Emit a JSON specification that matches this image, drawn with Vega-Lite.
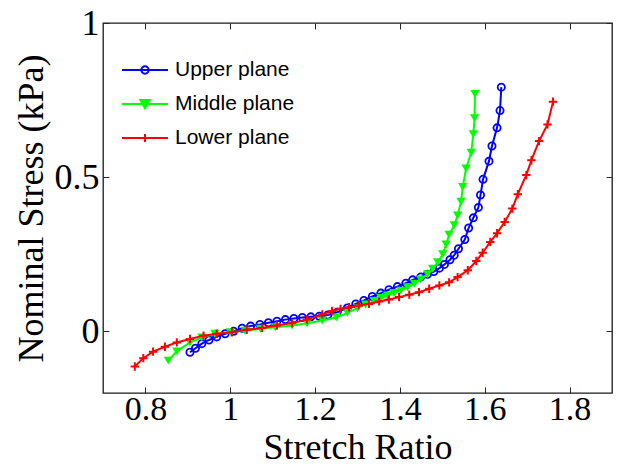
{
  "$schema": "https://vega.github.io/schema/vega-lite/v6.json",
  "width": 509,
  "height": 370,
  "autosize": "none",
  "padding": {"left": 103, "top": 23, "right": 13, "bottom": 83},
  "background": "white",
  "config": {
    "view": {"stroke": "#1a1a1a", "strokeWidth": 1.3},
    "axis": {
      "labelFont": "Liberation Serif",
      "labelFontSize": 34,
      "labelColor": "black",
      "titleFont": "Liberation Serif",
      "titleFontSize": 36,
      "titleFontWeight": "normal",
      "titleColor": "black",
      "grid": false,
      "domain": false,
      "tickColor": "#262626",
      "tickSize": -6,
      "tickWidth": 1
    }
  },
  "data": {
    "values": [
      {"series": "Upper plane", "x": 0.905, "y": -0.068},
      {"series": "Upper plane", "x": 0.918, "y": -0.055},
      {"series": "Upper plane", "x": 0.933, "y": -0.040},
      {"series": "Upper plane", "x": 0.95, "y": -0.028},
      {"series": "Upper plane", "x": 0.968, "y": -0.018},
      {"series": "Upper plane", "x": 0.988, "y": -0.008},
      {"series": "Upper plane", "x": 1.008, "y": 0.0},
      {"series": "Upper plane", "x": 1.028, "y": 0.010},
      {"series": "Upper plane", "x": 1.048, "y": 0.017},
      {"series": "Upper plane", "x": 1.07, "y": 0.022},
      {"series": "Upper plane", "x": 1.09, "y": 0.028},
      {"series": "Upper plane", "x": 1.11, "y": 0.033},
      {"series": "Upper plane", "x": 1.13, "y": 0.038},
      {"series": "Upper plane", "x": 1.15, "y": 0.042},
      {"series": "Upper plane", "x": 1.17, "y": 0.045},
      {"series": "Upper plane", "x": 1.19, "y": 0.047},
      {"series": "Upper plane", "x": 1.21, "y": 0.049},
      {"series": "Upper plane", "x": 1.23, "y": 0.053},
      {"series": "Upper plane", "x": 1.252, "y": 0.062},
      {"series": "Upper plane", "x": 1.276, "y": 0.076},
      {"series": "Upper plane", "x": 1.296, "y": 0.089},
      {"series": "Upper plane", "x": 1.315, "y": 0.100},
      {"series": "Upper plane", "x": 1.335, "y": 0.113},
      {"series": "Upper plane", "x": 1.355, "y": 0.124},
      {"series": "Upper plane", "x": 1.374, "y": 0.135},
      {"series": "Upper plane", "x": 1.394, "y": 0.145},
      {"series": "Upper plane", "x": 1.414, "y": 0.156},
      {"series": "Upper plane", "x": 1.43, "y": 0.167},
      {"series": "Upper plane", "x": 1.449, "y": 0.176},
      {"series": "Upper plane", "x": 1.465, "y": 0.185},
      {"series": "Upper plane", "x": 1.48, "y": 0.194},
      {"series": "Upper plane", "x": 1.493, "y": 0.205},
      {"series": "Upper plane", "x": 1.505, "y": 0.217},
      {"series": "Upper plane", "x": 1.518, "y": 0.232},
      {"series": "Upper plane", "x": 1.528, "y": 0.247},
      {"series": "Upper plane", "x": 1.538, "y": 0.268},
      {"series": "Upper plane", "x": 1.553, "y": 0.298},
      {"series": "Upper plane", "x": 1.562, "y": 0.335},
      {"series": "Upper plane", "x": 1.573, "y": 0.368},
      {"series": "Upper plane", "x": 1.585, "y": 0.402},
      {"series": "Upper plane", "x": 1.59, "y": 0.442},
      {"series": "Upper plane", "x": 1.596, "y": 0.493},
      {"series": "Upper plane", "x": 1.61, "y": 0.552},
      {"series": "Upper plane", "x": 1.617, "y": 0.601},
      {"series": "Upper plane", "x": 1.629, "y": 0.660},
      {"series": "Upper plane", "x": 1.636, "y": 0.716},
      {"series": "Upper plane", "x": 1.639, "y": 0.792},
      {"series": "Middle plane", "x": 0.854, "y": -0.095},
      {"series": "Middle plane", "x": 0.874, "y": -0.065},
      {"series": "Middle plane", "x": 0.905, "y": -0.036},
      {"series": "Middle plane", "x": 0.933, "y": -0.020},
      {"series": "Middle plane", "x": 0.964, "y": -0.008},
      {"series": "Middle plane", "x": 1.0, "y": -0.003},
      {"series": "Middle plane", "x": 1.035, "y": 0.002},
      {"series": "Middle plane", "x": 1.071, "y": 0.008},
      {"series": "Middle plane", "x": 1.106, "y": 0.013},
      {"series": "Middle plane", "x": 1.146, "y": 0.019},
      {"series": "Middle plane", "x": 1.181, "y": 0.026},
      {"series": "Middle plane", "x": 1.217, "y": 0.035},
      {"series": "Middle plane", "x": 1.25, "y": 0.045},
      {"series": "Middle plane", "x": 1.276, "y": 0.060},
      {"series": "Middle plane", "x": 1.3, "y": 0.075},
      {"series": "Middle plane", "x": 1.319, "y": 0.087},
      {"series": "Middle plane", "x": 1.339, "y": 0.098},
      {"series": "Middle plane", "x": 1.355, "y": 0.108},
      {"series": "Middle plane", "x": 1.371, "y": 0.116},
      {"series": "Middle plane", "x": 1.386, "y": 0.124},
      {"series": "Middle plane", "x": 1.402, "y": 0.132},
      {"series": "Middle plane", "x": 1.418, "y": 0.143},
      {"series": "Middle plane", "x": 1.434, "y": 0.154},
      {"series": "Middle plane", "x": 1.449, "y": 0.168},
      {"series": "Middle plane", "x": 1.465, "y": 0.185},
      {"series": "Middle plane", "x": 1.477, "y": 0.203},
      {"series": "Middle plane", "x": 1.489, "y": 0.224},
      {"series": "Middle plane", "x": 1.501, "y": 0.250},
      {"series": "Middle plane", "x": 1.509, "y": 0.282},
      {"series": "Middle plane", "x": 1.516, "y": 0.313},
      {"series": "Middle plane", "x": 1.528, "y": 0.344},
      {"series": "Middle plane", "x": 1.536, "y": 0.376},
      {"series": "Middle plane", "x": 1.544, "y": 0.420},
      {"series": "Middle plane", "x": 1.548, "y": 0.468},
      {"series": "Middle plane", "x": 1.556, "y": 0.528},
      {"series": "Middle plane", "x": 1.568, "y": 0.579},
      {"series": "Middle plane", "x": 1.573, "y": 0.639},
      {"series": "Middle plane", "x": 1.576, "y": 0.691},
      {"series": "Middle plane", "x": 1.577, "y": 0.770},
      {"series": "Lower plane", "x": 0.775, "y": -0.114},
      {"series": "Lower plane", "x": 0.795, "y": -0.087},
      {"series": "Lower plane", "x": 0.818, "y": -0.066},
      {"series": "Lower plane", "x": 0.846, "y": -0.050},
      {"series": "Lower plane", "x": 0.874, "y": -0.036},
      {"series": "Lower plane", "x": 0.905, "y": -0.025},
      {"series": "Lower plane", "x": 0.937, "y": -0.014},
      {"series": "Lower plane", "x": 0.968, "y": -0.008},
      {"series": "Lower plane", "x": 1.004, "y": -0.003},
      {"series": "Lower plane", "x": 1.039, "y": 0.005},
      {"series": "Lower plane", "x": 1.075, "y": 0.011},
      {"series": "Lower plane", "x": 1.11, "y": 0.019},
      {"series": "Lower plane", "x": 1.146, "y": 0.027},
      {"series": "Lower plane", "x": 1.181, "y": 0.038},
      {"series": "Lower plane", "x": 1.217, "y": 0.055},
      {"series": "Lower plane", "x": 1.24, "y": 0.066},
      {"series": "Lower plane", "x": 1.26, "y": 0.073},
      {"series": "Lower plane", "x": 1.28, "y": 0.078},
      {"series": "Lower plane", "x": 1.303, "y": 0.084},
      {"series": "Lower plane", "x": 1.327, "y": 0.089},
      {"series": "Lower plane", "x": 1.351, "y": 0.097},
      {"series": "Lower plane", "x": 1.374, "y": 0.103},
      {"series": "Lower plane", "x": 1.398, "y": 0.111},
      {"series": "Lower plane", "x": 1.422, "y": 0.119},
      {"series": "Lower plane", "x": 1.445, "y": 0.127},
      {"series": "Lower plane", "x": 1.469, "y": 0.138},
      {"series": "Lower plane", "x": 1.493, "y": 0.149},
      {"series": "Lower plane", "x": 1.516, "y": 0.159},
      {"series": "Lower plane", "x": 1.536, "y": 0.176},
      {"series": "Lower plane", "x": 1.56, "y": 0.198},
      {"series": "Lower plane", "x": 1.58, "y": 0.228},
      {"series": "Lower plane", "x": 1.595, "y": 0.255},
      {"series": "Lower plane", "x": 1.613, "y": 0.290},
      {"series": "Lower plane", "x": 1.629, "y": 0.318},
      {"series": "Lower plane", "x": 1.647, "y": 0.355},
      {"series": "Lower plane", "x": 1.665, "y": 0.398},
      {"series": "Lower plane", "x": 1.678, "y": 0.445},
      {"series": "Lower plane", "x": 1.698, "y": 0.507},
      {"series": "Lower plane", "x": 1.71, "y": 0.555},
      {"series": "Lower plane", "x": 1.728, "y": 0.617},
      {"series": "Lower plane", "x": 1.748, "y": 0.671},
      {"series": "Lower plane", "x": 1.761, "y": 0.745}
    ]
  },
  "resolve": {"axis": {"x": "independent", "y": "independent"}},
  "layer": [
    {
      "transform": [{"filter": "datum.series === 'Upper plane'"}],
      "mark": {"type": "line", "strokeWidth": 2},
      "encoding": {
        "x": {"field": "x", "type": "quantitative", "scale": {"domain": [0.7, 1.9], "nice": false, "zero": false},
          "axis": {"orient": "bottom", "values": [0.8, 1, 1.2, 1.4, 1.6, 1.8], "title": "Stretch Ratio", "labelFontSize": 34, "labelPadding": 5, "titlePadding": 4, "format": "~g",
            "encode": {"labels": {"update": {"fontSize": {"value": 34}}}}}},
        "y": {"field": "y", "type": "quantitative", "scale": {"domain": [-0.2, 1], "nice": false, "zero": false},
          "axis": {"orient": "left", "values": [0, 0.5, 1], "title": "Nominal Stress (kPa)", "labelFontSize": 36, "labelPadding": 10, "titlePadding": 4, "format": "~g",
            "encode": {"labels": {"update": {"fontSize": {"value": 36}}}}}},
        "color": {"field": "series", "type": "nominal",
          "scale": {"domain": ["Upper plane", "Middle plane", "Lower plane"], "range": ["#0000ff", "#00ff00", "#ff0000"]},
          "legend": {
            "title": null, "orient": "none", "legendX": 18, "legendY": 23,
            "labelFont": "Liberation Sans", "labelFontSize": 21, "labelColor": "black",
            "symbolSize": 2116, "symbolStrokeWidth": 2, "labelOffset": 6, "rowPadding": -19,
            "encode": {"symbols": {"update": {
              "shape": {"signal": "datum.value === 'Upper plane' ? 'M-1,0L1,0M0.16,0A0.16,0.16,0,1,1,-0.16,0A0.16,0.16,0,1,1,0.16,0Z' : datum.value === 'Middle plane' ? 'M-1,0L1,0M-0.2,-0.17L0.2,-0.17L0,0.18Z' : 'M-1,0L1,0M0,-0.17L0,0.17'"},
              "fill": {"signal": "datum.value === 'Middle plane' ? '#00ff00' : 'transparent'"},
              "strokeWidth": {"value": 2}
            }}}
          }}
      }
    },
    {
      "transform": [{"filter": "datum.series === 'Upper plane'"}],
      "mark": {"type": "point", "shape": "circle", "filled": false, "size": 52, "strokeWidth": 1.8, "color": "#0000ff", "opacity": 1},
      "encoding": {
        "x": {"field": "x", "type": "quantitative", "axis": {"orient": "top", "values": [0.8, 1, 1.2, 1.4, 1.6, 1.8], "labels": false, "title": null}},
        "y": {"field": "y", "type": "quantitative", "axis": {"orient": "right", "values": [0, 0.5, 1], "labels": false, "title": null}}
      }
    },
    {
      "transform": [{"filter": "datum.series === 'Middle plane'"}],
      "mark": {"type": "line", "strokeWidth": 2},
      "encoding": {
        "x": {"field": "x", "type": "quantitative", "axis": null},
        "y": {"field": "y", "type": "quantitative", "axis": null},
        "color": {"field": "series", "type": "nominal"}
      }
    },
    {
      "transform": [{"filter": "datum.series === 'Middle plane'"}],
      "mark": {"type": "point", "shape": "triangle-down", "filled": true, "size": 85, "color": "#00ff00", "opacity": 1},
      "encoding": {
        "x": {"field": "x", "type": "quantitative", "axis": null},
        "y": {"field": "y", "type": "quantitative", "axis": null}
      }
    },
    {
      "transform": [{"filter": "datum.series === 'Lower plane'"}],
      "mark": {"type": "line", "strokeWidth": 2},
      "encoding": {
        "x": {"field": "x", "type": "quantitative", "axis": null},
        "y": {"field": "y", "type": "quantitative", "axis": null},
        "color": {"field": "series", "type": "nominal"}
      }
    },
    {
      "transform": [{"filter": "datum.series === 'Lower plane'"}],
      "mark": {"type": "point", "shape": "M-1,0L1,0M0,-1L0,1", "filled": false, "size": 70, "strokeWidth": 2, "color": "#ff0000", "opacity": 1},
      "encoding": {
        "x": {"field": "x", "type": "quantitative", "axis": null},
        "y": {"field": "y", "type": "quantitative", "axis": null}
      }
    }
  ]
}
